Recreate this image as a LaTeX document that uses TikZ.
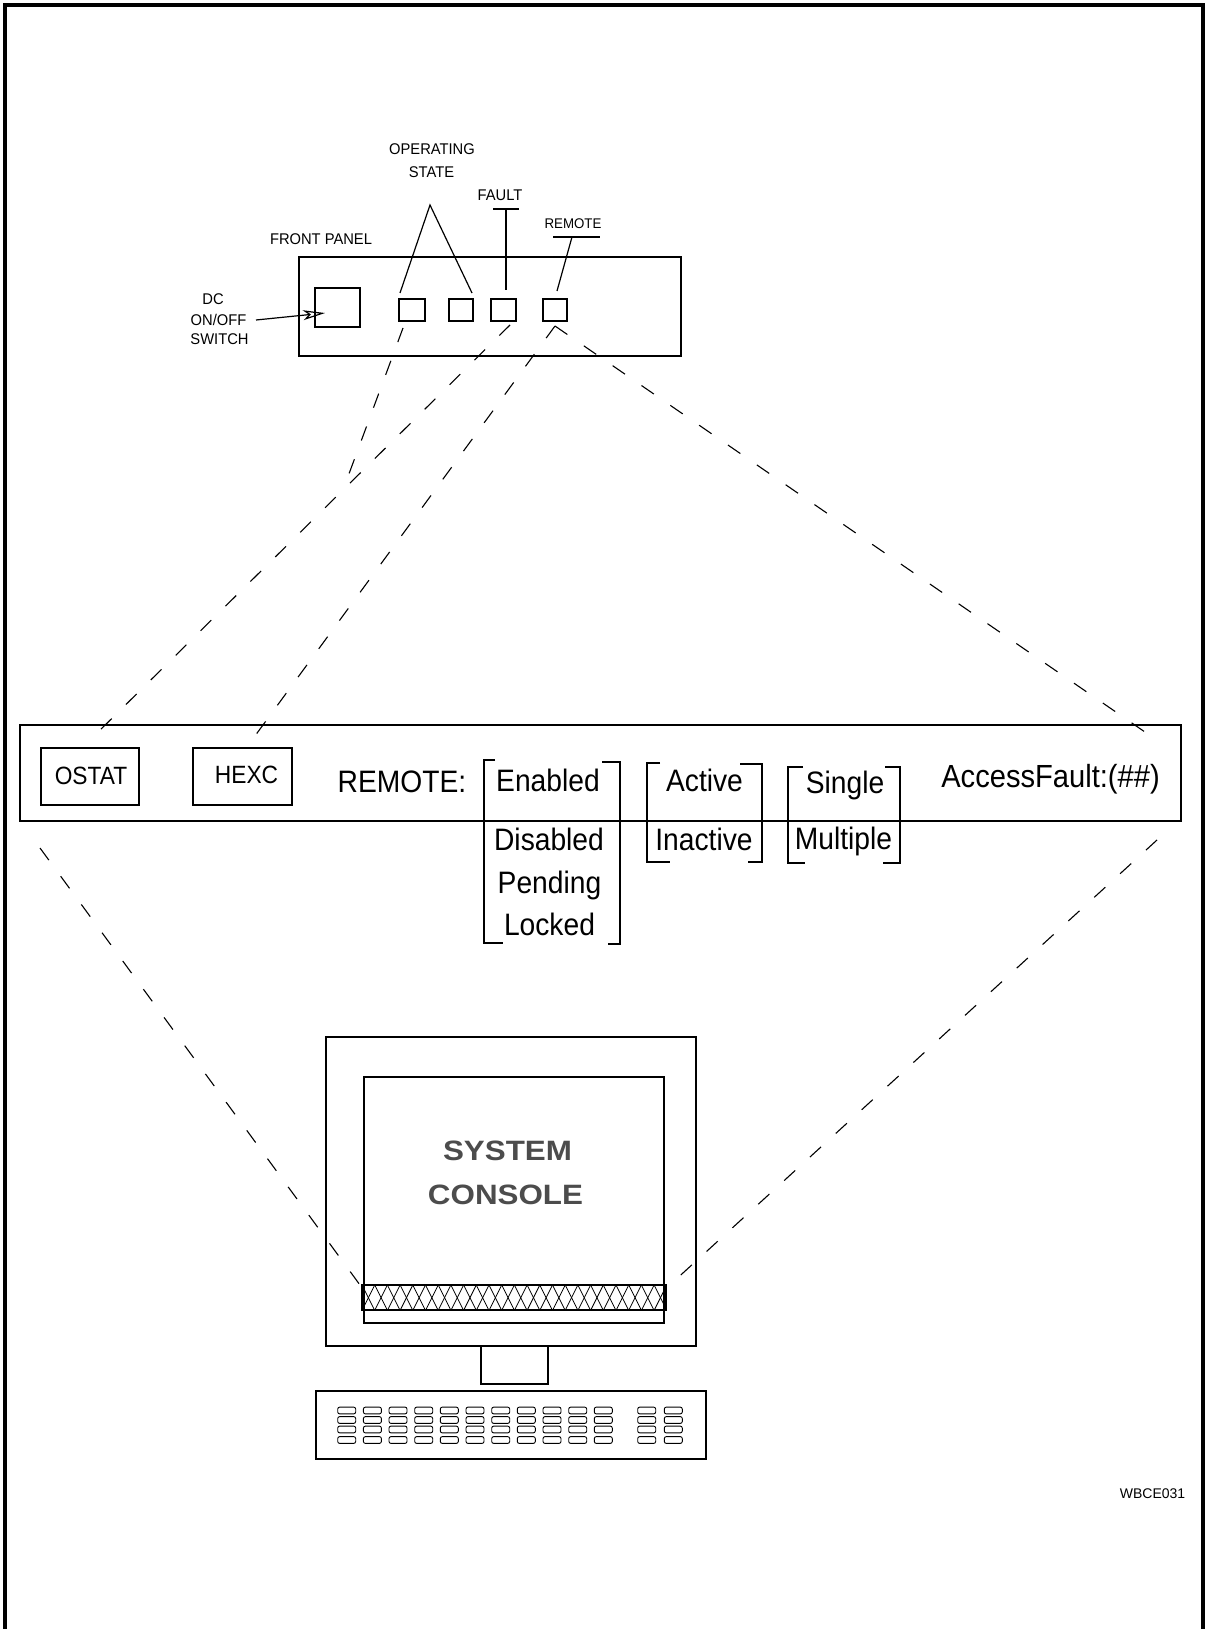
\documentclass[tikz,border=0pt]{standalone}
\usepackage{fontspec}
\setmainfont{Liberation Sans}
\newfontfamily\nf[FakeStretch=0.91]{Liberation Sans}
\newfontfamily\pf[FakeStretch=0.95]{Liberation Sans}
\newfontfamily\sysf[FakeStretch=1.12]{Liberation Sans}
\usetikzlibrary{arrows.meta}
\newcommand{\rectnode}[6][]{%
  \pgfmathsetmacro{\rcx}{(#3+#5)/2}\pgfmathsetmacro{\rcy}{(#4+#6)/2}%
  \pgfmathsetmacro{\rww}{#5-#3}\pgfmathsetmacro{\rhh}{#6-#4}%
  \node[draw, line width=1.2pt, inner sep=0pt, minimum width=\rww pt, minimum height=\rhh pt, #1] (#2) at (\rcx,\rcy) {};}
\begin{document}
\begin{tikzpicture}[x=1pt,y=-1pt,
  ln/.style={line width=1.2pt},
  dsh/.style={line width=1.1pt, dash pattern=on 15pt off 20pt},
  pl/.style={font=\pf\fontsize{15.5}{16}\selectfont, inner sep=0pt, anchor=base},
  dl/.style={font=\nf\fontsize{31}{33}\selectfont, inner sep=0pt, anchor=base},
  bl/.style={font=\nf\fontsize{25}{27}\selectfont, inner sep=0pt, anchor=base},
  keycap/.style={line width=0.9pt, rounded corners=2pt}]
\useasboundingbox (0,0) rectangle (1206,1629);
\fill[white] (0,0) rectangle (1206,1629);
% page border
\draw[line width=3.5pt] (5,1629) -- (5,5) -- (1203,5) -- (1203,1629);

% ---------- front panel ----------
\rectnode{panel}{299}{257}{681}{356}
\rectnode{switch}{315}{288}{360}{327}
\rectnode{led1}{399}{299}{425}{321}
\rectnode{led2}{449}{299}{473}{321}
\rectnode{led3}{491}{299}{516}{321}
\rectnode{led4}{543}{299}{567}{321}

\node[pl] (lop) at (432,154.5) {OPERATING};
\node[pl] (lst) at (431.5,177.5) {STATE};
\node[pl] (lfa) at (500,200.5) {FAULT};
\node[pl, font=\pf\fontsize{14}{15}\selectfont] (lre) at (573,229) {REMOTE};
\node[pl] (lfp) at (321,245) {FRONT PANEL};
\node[pl] (ldc) at (213,304) {DC};
\node[pl] (lon) at (218.5,325) {ON/OFF};
\node[pl] (lsw) at (219.5,344.5) {SWITCH};

% pointers
\coordinate (osA) at (430,205);
\coordinate (osL) at (400,293);
\coordinate (osR) at (472,293);
\draw[ln] (osL) -- (osA) -- (osR);
\coordinate (faL) at (493,209); \coordinate (faR) at (519,209);
\coordinate (faT) at (506,209); \coordinate (faB) at (506,290);
\draw[ln] (faL) -- (faR);
\draw[ln] (faT) -- (faB);
\coordinate (reL) at (553,237); \coordinate (reR) at (600,237);
\coordinate (reT) at (572,237); \coordinate (reB) at (557,291);
\draw[ln] (reL) -- (reR);
\draw[ln] (reT) -- (reB);
\coordinate (dcT) at (256,320); \coordinate (dcH) at (325,313);
\draw[ln, -{Stealth[open,length=22pt,width=10pt,inset=6pt]}] (dcT) -- (dcH);

% ---------- display line ----------
\rectnode{bar}{20}{725}{1181}{821}
\rectnode{ostat}{41}{748}{139}{805}
\rectnode{hexc}{193}{748}{292}{805}
\node[bl] (tost) at (91,784) {OSTAT};
\node[bl] (thex) at (246.5,783.5) {HEXC};
\node[dl] (trem) at (402,792) {REMOTE:};
\node[dl] (ten) at (548,791) {Enabled};
\node[dl] (tdis) at (549,850) {Disabled};
\node[dl] (tpen) at (549.5,893) {Pending};
\node[dl] (tloc) at (549.5,935) {Locked};
\node[dl] (tact) at (704.5,791) {Active};
\node[dl] (tina) at (704,850) {Inactive};
\node[dl] (tsin) at (845,793) {Single};
\node[dl] (tmul) at (843.5,849) {Multiple};
\node[dl, font=\nf\fontsize{32}{34}\selectfont] (tacc) at (1050.5,787) {AccessFault:(\#\#)};

% brackets
\draw[ln] (495,760) -- (484,760) -- (484,943) -- (503,943);
\draw[ln] (602,762) -- (620,762) -- (620,944) -- (608,944);
\draw[ln] (660,763) -- (647,763) -- (647,862) -- (670,862);
\draw[ln] (740,764) -- (762,764) -- (762,862) -- (748,862);
\draw[ln] (803,767) -- (788,767) -- (788,863) -- (805,863);
\draw[ln] (885,767) -- (900,767) -- (900,863) -- (883,863);

% ---------- dashed projection lines ----------
\coordinate (d1s) at (403,328); \coordinate (dx) at (343,490);
\coordinate (d3s) at (510,325); \coordinate (ostA) at (88,742);
\coordinate (d4s) at (555,326); \coordinate (hexA) at (252,740);
\coordinate (rgtA) at (1158,741);
\draw[dsh] (d1s) -- (dx);
\draw[dsh] (d3s) -- (ostA);
\draw[dsh] (d4s) -- (hexA);
\draw[dsh] (d4s) -- (rgtA);
\coordinate (bl) at (40,848); \coordinate (hl) at (360,1285);
\coordinate (br) at (1157,840); \coordinate (hr) at (672,1283);
\draw[dsh] (bl) -- (hl);
\draw[dsh] (br) -- (hr);

% ---------- console ----------
\rectnode{monitor}{326}{1037}{696}{1346}
\rectnode{screen}{364}{1077}{664}{1323}
\begin{scope}
  \clip (362,1285) rectangle (666,1310);
  \foreach \i in {-2,...,26} {
    \draw[line width=0.8pt] (362+\i*12.7,1285) -- ++(12.7,25.4);
    \draw[line width=0.8pt] (362+\i*12.7,1285) -- ++(-12.7,25.4);
  }
\end{scope}
\rectnode[line width=1.1pt]{hbar}{362}{1285}{666}{1310}
\rectnode{stand}{481}{1346}{548}{1384}
\rectnode{kbd}{316}{1391}{706}{1459}
\foreach \kx in {346.7,372.4,398,423.7,449.3,475,500.7,526.3,552,577.7,603.3,646.7,673.3}
  \foreach \ky in {1410.5,1420,1429.5,1440}
    \draw[keycap] (\kx-9,\ky-3.4) rectangle (\kx+9,\ky+3.4);

\node[font=\sysf\bfseries\fontsize{28}{30}\selectfont, text=black!70, inner sep=0pt, anchor=base] (tsys) at (507.5,1160) {SYSTEM};
\node[font=\sysf\bfseries\fontsize{28}{30}\selectfont, text=black!70, inner sep=0pt, anchor=base] (tcon) at (505.5,1204) {CONSOLE};

\node[font=\fontsize{14}{15}\selectfont, inner sep=0pt, anchor=base] (code) at (1152.5,1498) {WBCE031};
\end{tikzpicture}
\end{document}
